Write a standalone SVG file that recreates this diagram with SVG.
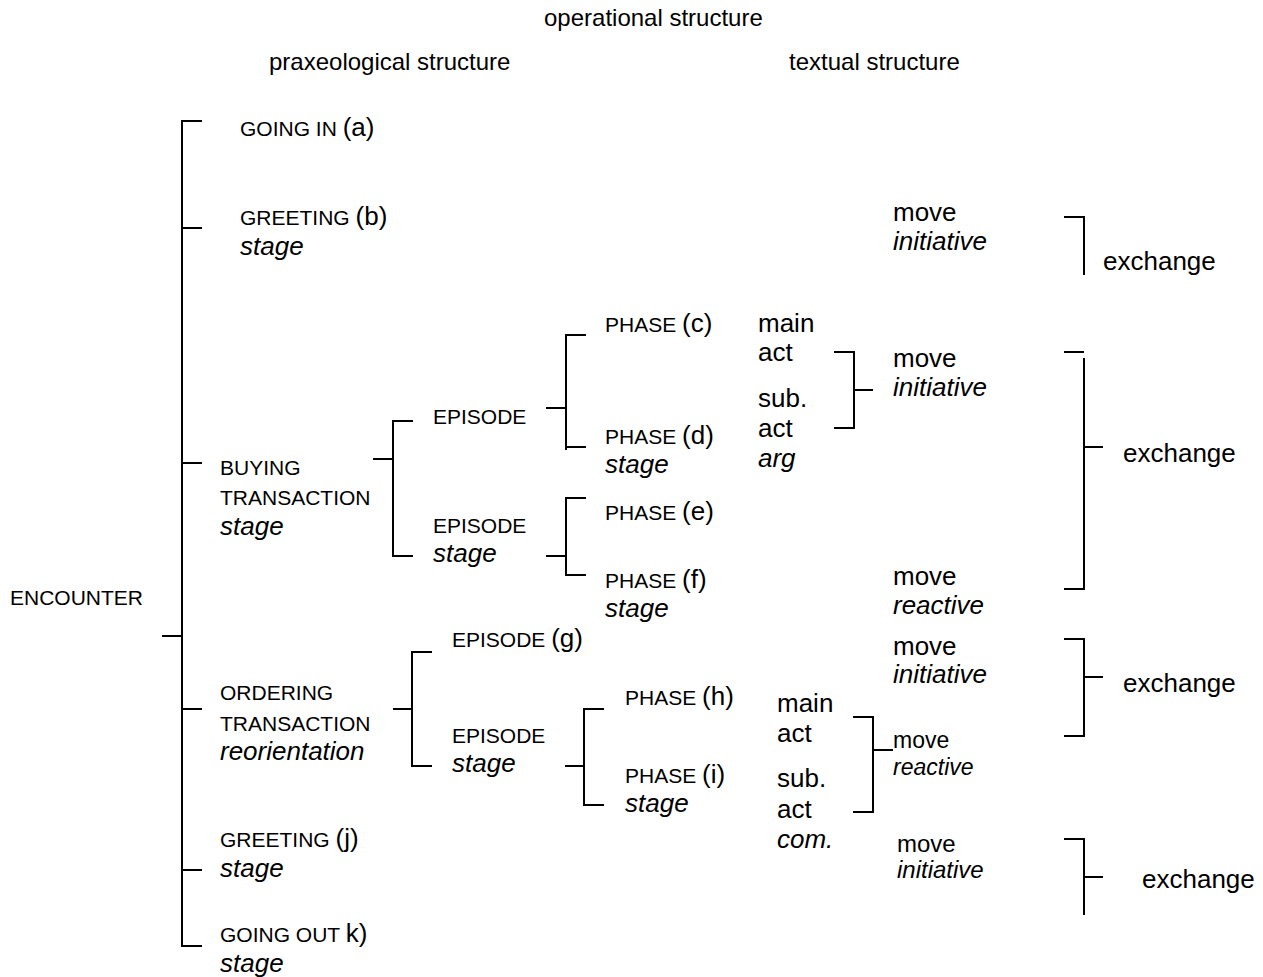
<svg xmlns="http://www.w3.org/2000/svg" width="1263" height="977" viewBox="0 0 1263 977">
<style>
text{font-family:"Liberation Sans",Arial,sans-serif;fill:#000;font-size:26px}
.c{font-size:21px}
.h{font-size:24px}
.i{font-style:italic}
.s23{font-size:23px}
.s24{font-size:24px}
#connectors path{fill:none;stroke:#000;stroke-width:2}
</style>
<rect width="1263" height="977" fill="#fff"/>
<g id="headers">
<text class="h" x="544" y="26">operational structure</text>
<text class="h" x="269" y="70">praxeological structure</text>
<text class="h" x="789" y="70">textual structure</text>
</g>
<g id="connectors">
<path d="M202,121 H182 V946 H202 M182,228 H202 M182,463 H202 M182,709 H202 M182,870 H202 M162,636 H182"/>
<path d="M373,459 H393 M413,421 H393 V556 H413"/>
<path d="M546,408 H566 M586,335 H566 V450 M566,447 H586"/>
<path d="M546,556 H566 M586,498 H566 V575 H586"/>
<path d="M393,709 H412 M432,652 H412 V766 H432"/>
<path d="M565,766 H584 M604,709 H584 V805 H604"/>
<path d="M834,352 H854 V428 H834 M854,390 H873"/>
<path d="M853,717 H873 V812 H853 M873,750 H893"/>
<path d="M1064,217 H1084 V275"/>
<path d="M1064,352 H1084 M1084,358 V589 H1064 M1084,447 H1103"/>
<path d="M1064,639 H1084 V736 H1064 M1084,677 H1103"/>
<path d="M1064,839 H1084 V915 M1084,877 H1103"/>
</g>
<g id="encounter"><text class="c" x="10" y="605">ENCOUNTER</text></g>
<g id="going-in"><text x="240" y="136"><tspan class="c">GOING IN </tspan>(a)</text></g>
<g id="greeting-b"><text x="240" y="225"><tspan class="c">GREETING </tspan>(b)</text><text class="i" x="240" y="255">stage</text></g>
<g id="buying"><text class="c" x="220" y="475">BUYING</text><text class="c" x="220" y="505">TRANSACTION</text><text class="i" x="220" y="535">stage</text></g>
<g id="ordering"><text class="c" x="220" y="700">ORDERING</text><text class="c" x="220" y="731">TRANSACTION</text><text class="i" x="220" y="760">reorientation</text></g>
<g id="greeting-j"><text x="220" y="847"><tspan class="c">GREETING </tspan>(j)</text><text class="i" x="220" y="877">stage</text></g>
<g id="going-out"><text x="220" y="942"><tspan class="c">GOING OUT </tspan>k)</text><text class="i" x="220" y="972">stage</text></g>
<g id="episode-1"><text class="c" x="433" y="424">EPISODE</text></g>
<g id="episode-2"><text class="c" x="433" y="533">EPISODE</text><text class="i" x="433" y="562">stage</text></g>
<g id="episode-g"><text x="452" y="647"><tspan class="c">EPISODE </tspan>(g)</text></g>
<g id="episode-3"><text class="c" x="452" y="743">EPISODE</text><text class="i" x="452" y="772">stage</text></g>
<g id="phase-c"><text x="605" y="332"><tspan class="c">PHASE </tspan>(c)</text></g>
<g id="phase-d"><text x="605" y="444"><tspan class="c">PHASE </tspan>(d)</text><text class="i" x="605" y="473">stage</text></g>
<g id="phase-e"><text x="605" y="520"><tspan class="c">PHASE </tspan>(e)</text></g>
<g id="phase-f"><text x="605" y="588"><tspan class="c">PHASE </tspan>(f)</text><text class="i" x="605" y="617">stage</text></g>
<g id="phase-h"><text x="625" y="705"><tspan class="c">PHASE </tspan>(h)</text></g>
<g id="phase-i"><text x="625" y="783"><tspan class="c">PHASE </tspan>(i)</text><text class="i" x="625" y="812">stage</text></g>
<g id="acts-1"><text x="758" y="332">main</text><text x="758" y="361">act</text><text x="758" y="407">sub.</text><text x="758" y="437">act</text><text class="i" x="758" y="467">arg</text></g>
<g id="acts-2"><text x="777" y="712">main</text><text x="777" y="742">act</text><text x="777" y="787">sub.</text><text x="777" y="818">act</text><text class="i" x="777" y="848">com.</text></g>
<g id="move-1"><text x="893" y="221">move</text><text class="i" x="893" y="250">initiative</text></g>
<g id="move-2"><text x="893" y="367">move</text><text class="i" x="893" y="396">initiative</text></g>
<g id="move-3"><text x="893" y="585">move</text><text class="i" x="893" y="614">reactive</text></g>
<g id="move-4"><text x="893" y="655">move</text><text class="i" x="893" y="683">initiative</text></g>
<g id="move-5"><text class="s23" x="893" y="748">move</text><text class="i s23" x="893" y="775">reactive</text></g>
<g id="move-6"><text class="s24" x="897" y="852">move</text><text class="i s24" x="897" y="878">initiative</text></g>
<g id="exchange-1"><text x="1103" y="270">exchange</text></g>
<g id="exchange-2"><text x="1123" y="462">exchange</text></g>
<g id="exchange-3"><text x="1123" y="692">exchange</text></g>
<g id="exchange-4"><text x="1142" y="888">exchange</text></g>
</svg>
